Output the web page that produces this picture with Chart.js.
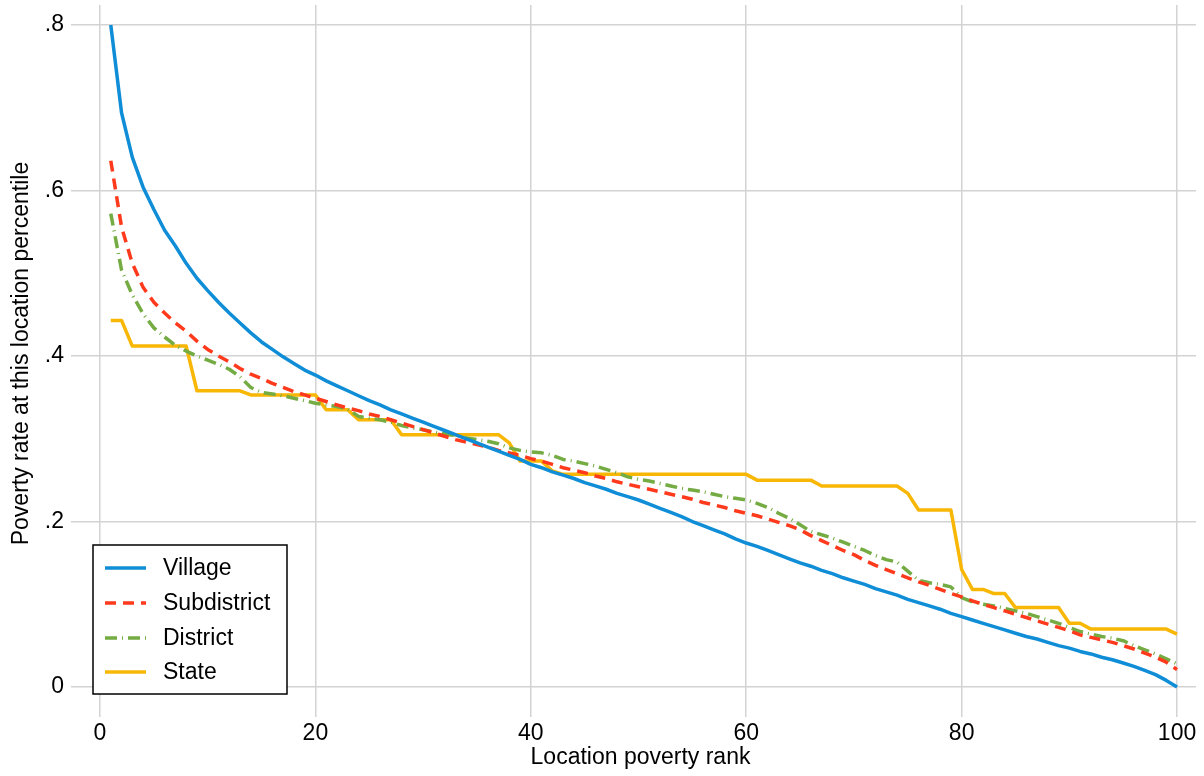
<!DOCTYPE html>
<html>
<head>
<meta charset="utf-8">
<script src="https://cdn.jsdelivr.net/npm/chart.js@4.4.1/dist/chart.umd.min.js"></script>
<style>
html,body{margin:0;padding:0;background:#fff;}
#wrap{width:1204px;height:776px;}
</style>
</head>
<body>
<div id="wrap"><canvas id="c" width="1204" height="776"></canvas></div>
<script>
// ---- Data ----
const ranks = Array.from({length: 100}, (_, i) => i + 1);
const xTicks = [0, 20, 40, 60, 80, 100];
const yTicks = [0, 0.2, 0.4, 0.6, 0.8];
const yTickLabels = ["0", ".2", ".4", ".6", ".8"];
const seriesNames = ["Village", "Subdistrict", "District", "State"];

const village = [
 .800,.694,.640,.604,.577,.552,.533,.512,.494,.479,
 .465,.452,.440,.428,.417,.408,.399,.391,.383,.377,
 .370,.364,.358,.352,.346,.341,.335,.330,.325,.320,
 .315,.310,.305,.300,.295,.290,.285,.280,.275,.269,
 .265,.260,.256,.252,.247,.243,.239,.234,.230,.226,
 .221,.216,.211,.206,.200,.195,.190,.185,.179,.174,
 .170,.165,.160,.155,.150,.146,.141,.137,.132,.128,
 .124,.119,.115,.111,.106,.102,.098,.094,.089,.085,
 .081,.077,.073,.069,.065,.061,.058,.054,.050,.047,
 .043,.040,.036,.033,.029,.025,.020,.015,.008,.000
];
const subdistrict = [
 .636,.556,.512,.483,.465,.452,.440,.430,.418,.408,
 .400,.393,.385,.378,.373,.367,.362,.357,.353,.349,
 .345,.341,.337,.334,.330,.327,.323,.319,.315,.311,
 .307,.303,.299,.296,.293,.290,.286,.283,.280,.276,
 .273,.269,.265,.262,.259,.255,.252,.248,.245,.242,
 .239,.236,.233,.230,.227,.223,.220,.217,.213,.210,
 .207,.203,.199,.195,.190,.183,.177,.171,.165,.160,
 .153,.147,.142,.137,.132,.127,.123,.118,.113,.109,
 .104,.100,.096,.092,.088,.084,.080,.076,.072,.068,
 .063,.060,.057,.054,.050,.046,.041,.036,.030,.021
];
const district = [
 .572,.504,.474,.451,.434,.423,.413,.406,.400,.395,
 .390,.384,.375,.362,.356,.354,.352,.349,.346,.343,
 .341,.339,.336,.327,.325,.323,.320,.316,.313,.311,
 .308,.306,.304,.301,.299,.297,.294,.289,.286,.284,
 .283,.280,.275,.273,.270,.267,.263,.259,.254,.251,
 .249,.246,.243,.240,.238,.236,.233,.230,.228,.226,
 .222,.217,.210,.204,.196,.188,.184,.180,.175,.170,
 .165,.159,.154,.151,.140,.129,.126,.124,.121,.108,
 .103,.100,.098,.095,.092,.089,.085,.081,.077,.072,
 .067,.064,.061,.059,.056,.050,.045,.040,.034,.028
];
const state = [
 .443,.443,.412,.412,.412,.412,.412,.412,.358,.358,
 .358,.358,.358,.353,.353,.353,.353,.353,.353,.353,
 .335,.335,.335,.323,.323,.323,.323,.305,.305,.305,
 .305,.305,.305,.305,.305,.305,.305,.295,.273,.273,
 .273,.261,.257,.257,.257,.257,.257,.257,.257,.257,
 .257,.257,.257,.257,.257,.257,.257,.257,.257,.257,
 .250,.250,.250,.250,.250,.250,.243,.243,.243,.243,
 .243,.243,.243,.243,.234,.214,.214,.214,.214,.142,
 .118,.118,.113,.113,.096,.096,.096,.096,.096,.077,
 .077,.070,.070,.070,.070,.070,.070,.070,.070,.064
];

const FONT = "'Liberation Sans', Arial, Helvetica, sans-serif";
const FSIZE = 23;
const GRID = '#d3d3d3';

const toXY = arr => arr.map((v, i) => ({x: ranks[i], y: v}));

const legendBox = {
  id: 'legendBox',
  afterDatasetsDraw(chart) {
    const ctx = chart.ctx;
    const bx = 93, by = 545, bw = 194, bh = 149;
    ctx.save();
    ctx.fillStyle = '#fff';
    ctx.fillRect(bx, by, bw, bh);
    ctx.strokeStyle = '#000';
    ctx.lineWidth = 1.5;
    ctx.strokeRect(bx, by, bw, bh);
    const rows = [568, 603, 638, 672];
    chart.data.datasets.forEach((ds, i) => {
      const y = rows[i];
      ctx.beginPath();
      ctx.setLineDash(ds.borderDash || []);
      ctx.strokeStyle = ds.borderColor;
      ctx.lineWidth = ds.borderWidth;
      ctx.moveTo(105, y);
      ctx.lineTo(146, y);
      ctx.stroke();
      ctx.setLineDash([]);
      ctx.fillStyle = '#000';
      ctx.font = FSIZE + 'px ' + FONT;
      ctx.textBaseline = 'middle';
      ctx.textAlign = 'left';
      ctx.fillText(ds.label, 163, y + 1);
    });
    ctx.restore();
  }
};

function noPadY(s) { s.width = 85; s.paddingTop = 0; s.paddingBottom = 0; }
function noPadX(s) { s.height = 74; s.paddingLeft = 0; s.paddingRight = 0; }

new Chart(document.getElementById('c'), {
  type: 'line',
  data: {
    datasets: [
      {label: seriesNames[0], data: toXY(village), borderColor: '#0f8dd6', borderWidth: 3.5, borderDash: []},
      {label: seriesNames[1], data: toXY(subdistrict), borderColor: '#ff3a1c', borderWidth: 3.5, borderDash: [11, 7]},
      {label: seriesNames[2], data: toXY(district), borderColor: '#74ab42', borderWidth: 3.5, borderDash: [12, 5, 1, 5]},
      {label: seriesNames[3], data: toXY(state), borderColor: '#f8b705', borderWidth: 3.5, borderDash: []}
    ]
  },
  options: {
    responsive: false,
    animation: false,
    events: [],
    devicePixelRatio: 1,
    elements: {point: {radius: 0}, line: {tension: 0, borderCapStyle: 'butt', borderJoinStyle: 'round'}},
    layout: {padding: {left: 0, top: 5, right: 8, bottom: 0}},
    plugins: {legend: {display: false}, tooltip: {enabled: false}, title: {display: false}},
    scales: {
      x: {
        type: 'linear',
        min: -1.393,
        max: 101.76,
        afterBuildTicks: s => { s.ticks = xTicks.map(v => ({value: v})); },
        afterFit: noPadX,
        border: {display: false},
        grid: {color: GRID, tickColor: GRID, lineWidth: 1.5, tickLength: 15, drawTicks: true},
        ticks: {color: '#000', font: {family: FONT, size: FSIZE}, padding: 3, maxRotation: 0, autoSkip: false},
        title: {display: true, text: 'Location poverty rank', color: '#000', font: {family: FONT, size: FSIZE}, padding: {top: 0, bottom: 5}}
      },
      y: {
        type: 'linear',
        min: -0.0181,
        max: 0.8242,
        afterBuildTicks: s => { s.ticks = yTicks.map(v => ({value: v})); },
        afterFit: noPadY,
        border: {display: false},
        grid: {color: GRID, tickColor: GRID, lineWidth: 1.5, tickLength: 14, drawTicks: true},
        ticks: {color: '#000', font: {family: FONT, size: FSIZE}, padding: 7,
          callback: (v) => { const i = yTicks.findIndex(t => Math.abs(t - v) < 1e-9); return i >= 0 ? yTickLabels[i] : ''; }},
        title: {display: true, text: 'Poverty rate at this location percentile', color: '#000', font: {family: FONT, size: FSIZE}, padding: {top: 8, bottom: 0}}
      }
    }
  },
  plugins: [legendBox]
});
</script>
</body>
</html>
